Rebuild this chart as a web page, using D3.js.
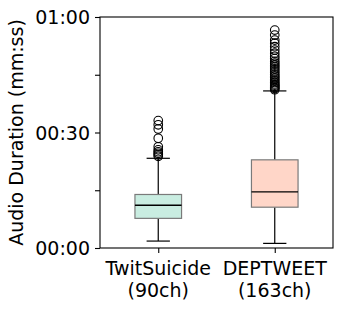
<!DOCTYPE html>
<html>
<head>
<meta charset="utf-8">
<script src="https://cdn.jsdelivr.net/npm/d3@7"></script>
<style>
body { margin: 0; background: #fff; }
text { font-family: "DejaVu Sans", sans-serif; fill: #000; }
</style>
</head>
<body>
<svg width="342" height="309"></svg>
<script>
// datasets (seconds)
var names = ["TwitSuicide", "DEPTWEET"];
var counts = ["(90ch)", "(163ch)"];
var fills = ["#c9ede1", "#ffd6c8"];
// [lowWhisker, q1, median, q3, highWhisker]
var boxStats = [
    [1.8, 7.7, 11.1, 13.9, 23.3],
    [1.2, 10.6, 14.6, 22.9, 40.8]
];
var outliers1 = [33.1, 32.0, 30.9, 28.5, 26.3, 25.5, 25.0, 24.6, 24.2, 23.8];
var outliers2 = [56.6, 55.3, 54.0, 53.2, 52.3, 51.4, 50.6, 49.8, 49.2, 48.5, 48.0, 47.5,
                 47.0, 46.5, 46.0, 45.5, 45.0, 44.6, 44.2, 43.8, 43.4, 43.0, 42.6, 42.3,
                 42.0, 41.7, 41.4, 41.1];
var outliers = [outliers1, outliers2];
var yTicks = [0, 15, 30, 45, 60];

var svg = d3.select("svg"),
    mLeft = 100, mRight = 333, mTop = 17, mBottom = 248,
    fontSize = "19px";

var x = d3.scaleLinear().domain([0.5, 2.5]).range([mLeft, mRight]);
var y = d3.scaleLinear().domain([0, 60]).range([mBottom, mTop]);
var boxW = x(1.4) - x(1);

function fmt(s) {
    if (s % 30 != 0) return "";
    var m = Math.floor(s / 60), sec = s % 60;
    return d3.format("02d")(m) + ":" + d3.format("02d")(sec);
}

var yAxis = svg.append("g")
    .attr("transform", "translate(" + mLeft + ",0)")
    .call(d3.axisLeft(y).tickValues(yTicks).tickFormat(fmt).tickSizeOuter(0).tickSize(5).tickPadding(5));
yAxis.select(".domain").remove();
yAxis.selectAll("text").style("font-size", fontSize).style("font-family", "DejaVu Sans").attr("dy", "0.35em");
yAxis.selectAll("line").attr("stroke", "#000").attr("stroke-width", 1.1);

var xAxis = svg.append("g")
    .attr("transform", "translate(0," + mBottom + ")")
    .call(d3.axisBottom(x).tickValues([1, 2]).tickFormat("").tickSize(5).tickSizeOuter(0));
xAxis.select(".domain").remove();
xAxis.selectAll("line").attr("stroke", "#000").attr("stroke-width", 1.1);

names.forEach(function(n, i) {
    var t = svg.append("text")
        .attr("x", x(i + 1))
        .attr("y", mBottom + 27)
        .attr("text-anchor", "middle")
        .style("font-size", fontSize);
    t.append("tspan").attr("x", x(i + 1)).text(n);
    t.append("tspan").attr("x", x(i + 1)).attr("dy", 22).text(counts[i]);
});

svg.append("text")
    .attr("transform", "translate(23," + ((mTop + mBottom) / 2) + ") rotate(-90)")
    .attr("text-anchor", "middle")
    .style("font-size", fontSize)
    .text("Audio Duration (mm:ss)");

var boxes = svg.selectAll(".box")
    .data(boxStats)
    .join("g")
    .attr("class", "box");

boxes.each(function(d, i) {
    var g = d3.select(this), cx = x(i + 1);
    // whiskers
    g.append("line").attr("x1", cx).attr("x2", cx).attr("y1", y(d[0])).attr("y2", y(d[1]))
        .attr("stroke", "#000").attr("stroke-width", 1.2);
    g.append("line").attr("x1", cx).attr("x2", cx).attr("y1", y(d[3])).attr("y2", y(d[4]))
        .attr("stroke", "#000").attr("stroke-width", 1.2);
    [d[0], d[4]].forEach(function(v) {
        g.append("line").attr("x1", cx - boxW / 4).attr("x2", cx + boxW / 4)
            .attr("y1", y(v)).attr("y2", y(v))
            .attr("stroke", "#000").attr("stroke-width", 1.2);
    });
    g.append("rect")
        .attr("x", cx - boxW / 2).attr("width", boxW)
        .attr("y", y(d[3])).attr("height", y(d[1]) - y(d[3]))
        .attr("fill", fills[i]).attr("stroke", "#7a7a7a").attr("stroke-width", 1.2);
    g.append("line").attr("x1", cx - boxW / 2).attr("x2", cx + boxW / 2)
        .attr("y1", y(d[2])).attr("y2", y(d[2]))
        .attr("stroke", "#000").attr("stroke-width", 1.3);
    g.selectAll("circle")
        .data(outliers[i])
        .join("circle")
        .attr("cx", cx).attr("cy", v => y(v)).attr("r", 4.3)
        .attr("fill", "none").attr("stroke", "#000").attr("stroke-width", 1.1);
});

// frame
svg.append("rect")
    .attr("x", mLeft).attr("y", mTop)
    .attr("width", mRight - mLeft).attr("height", mBottom - mTop)
    .attr("fill", "none").attr("stroke", "#000").attr("stroke-width", 1.1);
</script>
</body>
</html>
